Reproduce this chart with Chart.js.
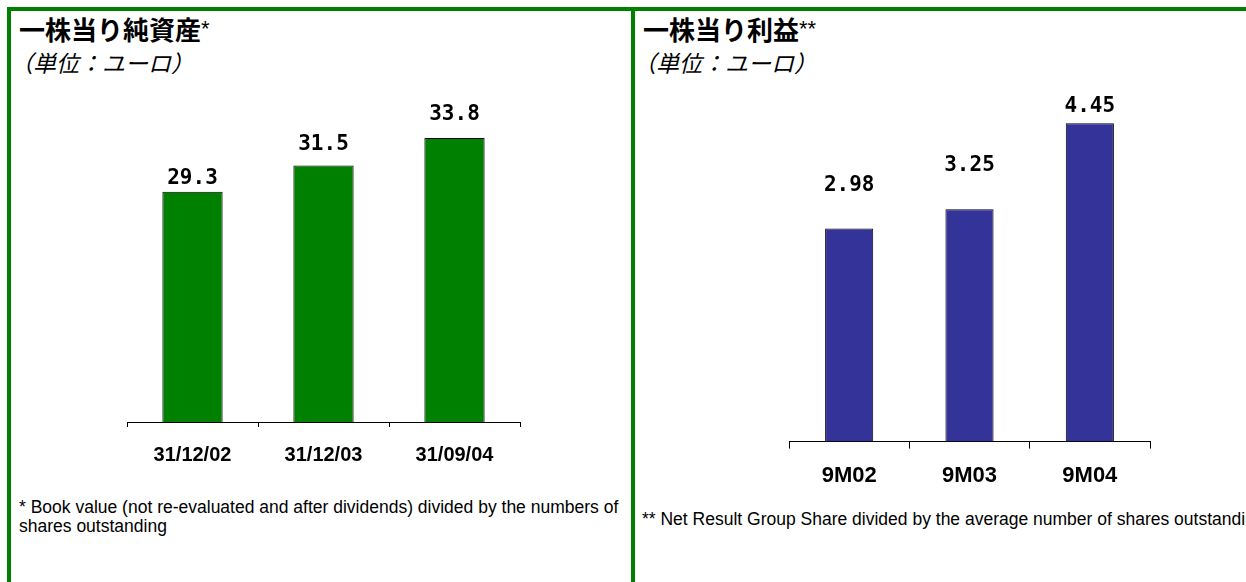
<!DOCTYPE html>
<html>
<head>
<meta charset="utf-8">
<script src="https://cdn.jsdelivr.net/npm/chart.js@4.4.1/dist/chart.umd.min.js"></script>
<style>
  html, body { margin: 0; padding: 0; background: #fff; overflow: hidden; }
  body { width: 1246px; height: 582px; position: relative; }
  .frame { position: absolute; background: #008000; }
  .title { position: absolute; font-family: "Noto Sans CJK JP", sans-serif; font-weight: bold; font-size: 26px; line-height: 26px; color: #000; white-space: nowrap; }
  .title .star { font-family: "Liberation Sans", Arial, sans-serif; font-weight: normal; font-size: 22px; vertical-align: top; }
  .unit { position: absolute; font-family: "Noto Sans CJK JP", sans-serif; font-style: italic; font-size: 23px; line-height: 23px; color: #000; white-space: nowrap; }
  .note { position: absolute; font-family: "Liberation Sans", Arial, sans-serif; font-size: 17.5px; line-height: 19px; color: #000; white-space: nowrap; }
  canvas { position: absolute; top: 0; }
</style>
</head>
<body>
<div class="frame" style="left:7px; top:7px; width:1239px; height:4px;"></div>
<div class="frame" style="left:7px; top:7px; width:4px; height:575px;"></div>
<div class="frame" style="left:631px; top:7px; width:4px; height:575px;"></div>

<div class="title" style="left:19px; top:16px;">一株当り純資産<span class="star">*</span></div>
<div class="unit" style="left:10px; top:51px;">（単位：ユーロ）</div>
<canvas id="bookChart" width="631" height="483" style="left:0;"></canvas>
<div class="note" style="left:19px; top:498px;">* Book value (not re-evaluated and after dividends) divided by the numbers of<br>shares outstanding</div>

<div class="title" style="left:643px; top:16px;">一株当り利益<span class="star">**</span></div>
<div class="unit" style="left:633px; top:51px;">（単位：ユーロ）</div>
<canvas id="epsChart" width="611" height="503" style="left:635px;"></canvas>
<div class="note" style="left:642px; top:510px;">** Net Result Group Share divided by the average number of shares outstanding</div>

<script>
// data
const bookLabels = ['31/12/02', '31/12/03', '31/09/04'];
const bookValues = [29.3, 31.5, 33.8];
const bookText = ['29.3', '31.5', '33.8'];

const epsLabels = ['9M02', '9M03', '9M04'];
const epsValues = [2.98, 3.25, 4.45];
const epsText = ['2.98', '3.25', '4.45'];

// draws the value above each bar
const valueLabels = {
    id: 'valueLabels',
    afterDatasetsDraw(chart, args, opts) {
        const ctx = chart.ctx;
        const meta = chart.getDatasetMeta(0);
        ctx.save();
        ctx.font = 'bold 21px "DejaVu Sans Mono", monospace';
        ctx.fillStyle = '#000';
        ctx.textAlign = 'center';
        ctx.textBaseline = 'alphabetic';
        meta.data.forEach((bar, i) => {
            const gap = opts.gaps[i];
            ctx.fillText(opts.texts[i], bar.x, bar.y - gap);
        });
        ctx.restore();
    }
};

function makeChart(id, labels, values, texts, gaps, color, barPct, yMin, yMax, padding, tickLen, tickFont, tickPad) {
    const ctx = document.getElementById(id).getContext('2d');
    return new Chart(ctx, {
        type: 'bar',
        data: {
            labels: labels,
            datasets: [{
                data: values,
                backgroundColor: color,
                borderColor: '#000',
                borderWidth: 1,
                borderSkipped: 'bottom',
                barPercentage: barPct,
                categoryPercentage: 1
            }]
        },
        options: {
            responsive: false,
            animation: false,
            devicePixelRatio: 1,
            layout: { padding: padding },
            plugins: {
                legend: { display: false },
                tooltip: { enabled: false },
                valueLabels: { texts: texts, gaps: gaps }
            },
            scales: {
                x: {
                    offset: true,
                    grid: {
                        offset: true,
                        drawOnChartArea: false,
                        drawTicks: true,
                        tickLength: tickLen,
                        color: '#000'
                    },
                    border: { color: '#000', width: 1 },
                    ticks: {
                        color: '#000',
                        padding: tickPad,
                        maxRotation: 0,
                        font: { family: 'Liberation Sans', weight: 'bold', size: tickFont }
                    }
                },
                y: { display: false, min: yMin, max: yMax }
            }
        },
        plugins: [valueLabels]
    });
}

makeChart('bookChart', bookLabels, bookValues, bookText, [8, 15, 18], '#008000', 0.46, 10, 40,
    { left: 127, right: 111, top: 64, bottom: 0 }, 5, 20, 16);
makeChart('epsChart', epsLabels, epsValues, epsText, [37, 38, 11], '#333399', 0.40, 0, 5,
    { left: 154, right: 96, top: 84, bottom: 0 }, 7, 22, 14);
</script>
</body>
</html>
